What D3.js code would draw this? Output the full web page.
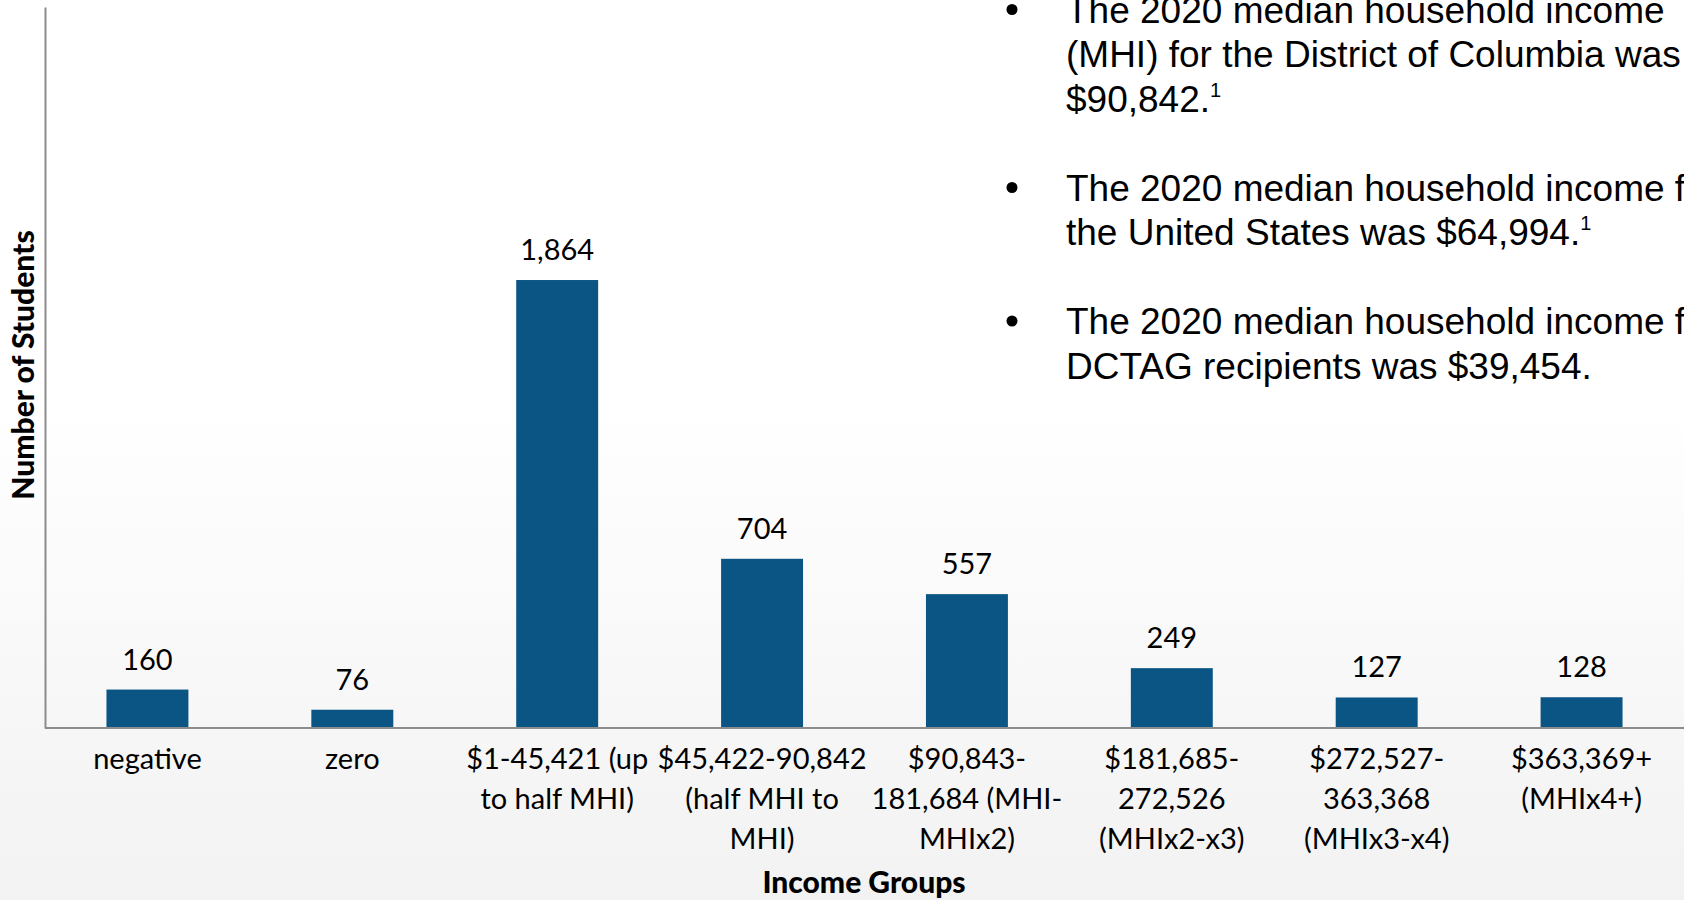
<!DOCTYPE html>
<html>
<head>
<meta charset="utf-8">
<script src="https://cdn.jsdelivr.net/npm/d3@7"></script>
<style>
  html, body { margin: 0; padding: 0; }
  body { width: 1684px; height: 900px; overflow: hidden; }
</style>
</head>
<body>
<svg id="chart" width="1684" height="900"></svg>
<script>
// income groups, one entry per bar (label lines as shown on the axis)
const groups = ["negative", "zero", "g1", "g2", "g3", "g4", "g5", "g6"];
const groupLabels = [
  ["negative"],
  ["zero"],
  ["$1-45,421 (up", "to half MHI)"],
  ["$45,422-90,842", "(half MHI to", "MHI)"],
  ["$90,843-", "181,684 (MHI-", "MHIx2)"],
  ["$181,685-", "272,526", "(MHIx2-x3)"],
  ["$272,527-", "363,368", "(MHIx3-x4)"],
  ["$363,369+", "(MHIx4+)"]
];
const students = [160, 76, 1864, 704, 557, 249, 127, 128];

const notes = [
  ["The 2020 median household income", "(MHI) for the District of Columbia was", "$90,842.|1"],
  ["The 2020 median household income for", "the United States was $64,994.|1"],
  ["The 2020 median household income for", "DCTAG recipients was $39,454."]
];

const svg = d3.select("#chart");
const W = 1684, H = 900;

// background gradient
const defs = svg.append("defs");
const grad = defs.append("linearGradient")
  .attr("id", "bg").attr("x1", 0).attr("y1", 0).attr("x2", 0).attr("y2", 1);
grad.append("stop").attr("offset", "0%").attr("stop-color", "#ffffff");
grad.append("stop").attr("offset", "45%").attr("stop-color", "#ffffff");
grad.append("stop").attr("offset", "100%").attr("stop-color", "#f2f2f2");
svg.append("rect").attr("width", W).attr("height", H).attr("fill", "url(#bg)");

const x = d3.scaleBand().domain(groups).range([45, 1684]).paddingInner(0.6).paddingOuter(0.3);
const y = d3.scaleLinear().domain([0, 3000]).range([728, 7]);

const font = "Lato, 'Open Sans', sans-serif";

// bars
svg.selectAll("rect.bar")
  .data(students)
  .enter()
  .append("rect")
  .attr("class", "bar")
  .attr("x", (d, i) => x(groups[i]))
  .attr("y", d => y(d))
  .attr("width", x.bandwidth())
  .attr("height", d => y(0) - y(d))
  .attr("fill", "#0b5585");

// value labels
svg.selectAll("text.val")
  .data(students)
  .enter()
  .append("text")
  .attr("class", "val")
  .attr("x", (d, i) => x(groups[i]) + x.bandwidth() / 2)
  .attr("y", d => y(d) - 20)
  .attr("text-anchor", "middle")
  .style("font-family", font)
  .style("font-size", "29px")
  .style("fill", "#000")
  .text(d => d3.format(",")(d));

// axes lines
const xAxis = svg.append("g")
  .attr("transform", `translate(0,${y(0)})`)
  .call(d3.axisBottom(x).tickSize(0).tickFormat(""));
xAxis.select(".domain").attr("stroke", "#8c8c8c").attr("stroke-width", 2)
  .attr("d", `M45,0H1684`);

const yAxis = svg.append("g")
  .attr("transform", "translate(45,0)")
  .call(d3.axisLeft(y).tickSize(0).tickFormat("").ticks(0));
yAxis.select(".domain").attr("stroke", "#8c8c8c").attr("stroke-width", 2);

// tick labels
const tl = svg.selectAll("text.tick-lab")
  .data(groupLabels)
  .enter()
  .append("text")
  .attr("class", "tick-lab")
  .attr("text-anchor", "middle")
  .style("font-family", font)
  .style("font-size", "29px")
  .style("fill", "#000");
tl.each(function(lines, i) {
  const cx = x(groups[i]) + x.bandwidth() / 2;
  d3.select(this).selectAll("tspan")
    .data(lines)
    .enter()
    .append("tspan")
    .attr("x", cx)
    .attr("y", (d, j) => 769 + j * 40)
    .text(d => d);
});

// axis titles
svg.append("text")
  .attr("x", 864).attr("y", 893)
  .attr("text-anchor", "middle")
  .style("font-family", font)
  .style("font-size", "30px")
  .style("font-weight", "900")
  .text("Income Groups");

svg.append("text")
  .attr("transform", "translate(34,365) rotate(-90)")
  .attr("text-anchor", "middle")
  .style("font-family", font)
  .style("font-size", "30px")
  .style("font-weight", "900")
  .text("Number of Students");

// bullet notes
let line = 0;
const lineH = 44.5;
notes.forEach(p => {
  const top = 9.5 + line * lineH;
  svg.append("circle")
    .attr("cx", 1012).attr("cy", top).attr("r", 5.5).attr("fill", "#000");
  p.forEach((t, j) => {
    const parts = t.split("|");
    const txt = svg.append("text")
      .attr("x", 1066).attr("y", top + j * lineH + 13)
      .style("font-family", "'Liberation Sans', Arial, sans-serif")
      .style("font-size", "37px")
      .style("fill", "#000");
    txt.append("tspan").text(parts[0]);
    if (parts[1]) {
      txt.append("tspan").attr("dy", -15).style("font-size", "20px").text(parts[1]);
    }
  });
  line += p.length + 1;
});
</script>
</body>
</html>
